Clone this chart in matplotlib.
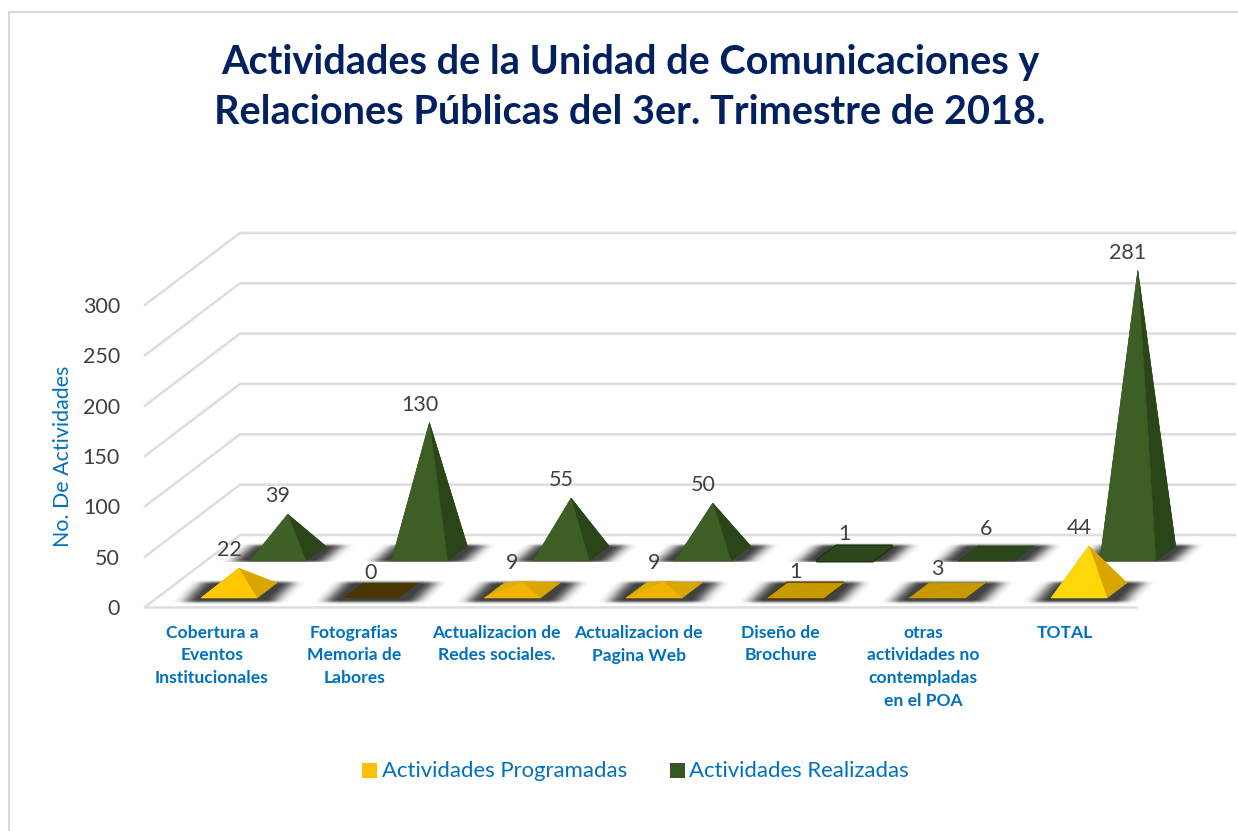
"""Piramides 3D de actividades por trimestre, dibujadas con una proyeccion simple."""
import matplotlib

matplotlib.use("agg")
import matplotlib.pyplot as plt
import numpy as np
from matplotlib.patches import Polygon, Rectangle
from matplotlib.path import Path

plt.rcParams["font.family"] = ["Lato", "DejaVu Sans"]

TITLE = "Actividades de la Unidad de Comunicaciones y\nRelaciones Públicas del 3er. Trimestre de 2018."
YLABEL = "No. De Actividades"
categories = [
    "Cobertura a\nEventos\nInstitucionales",
    "Fotografias\nMemoria de\nLabores",
    "Actualizacion de\nRedes sociales.",
    "Actualizacion de\nPagina Web",
    "Diseño de\nBrochure",
    "otras\nactividades no\ncontempladas\nen el POA",
    "TOTAL",
]
programadas = [22, 0, 9, 9, 1, 3, 44]
realizadas = [39, 130, 55, 50, 1, 6, 281]
series_names = ["Actividades Programadas", "Actividades Realizadas"]
yticks = [0, 50, 100, 150, 200, 250, 300]

BLUE = "#0070C0"
NAVY = "#002060"
GREY = "#404040"
GRID = "#DDDDDD"

W, H = 1238, 831

# proyeccion: categoria, profundidad (0 frente, 1 fondo del piso), valor -> pixeles
X0, Y0 = 145.0, 607.0
CAT_STEP = 141.67
DEPTH_DX, DEPTH_DY = 95.0, -72.0
PX_PER_UNIT = 1.007
WALL_RIGHT = 1235.0

# base de la piramide dentro de su celda
BASE_C0, BASE_C1 = 0.312, 0.707
BASE_D0, BASE_D1 = 0.125, 0.333


def project(cat, depth, value=0.0):
    x = X0 + CAT_STEP * cat + DEPTH_DX * depth
    y = Y0 + DEPTH_DY * depth - PX_PER_UNIT * value
    return x, y


# colores de cada serie
YELLOW = {"front": "#FFC800", "tall": "#FFD60A", "mid": "#F2B200", "right": "#D9A600", "back": "#E0AE00",
          "flat": "#4A3600", "low": "#C99A00"}
GREEN = {"front": "#3F6027", "tall": "#3D5F26", "mid": "#3F6027", "right": "#2A4518", "back": "#365522",
         "flat": "#1E3012", "low": "#2C481B"}


def box_blur(img, size, axis):
    kernel = np.ones(size) / size
    return np.apply_along_axis(lambda m: np.convolve(m, kernel, mode="same"), axis, img)


def draw_shadows(ax, depth, n_cat, bottom_pad, clip_bottom):
    # sombra difusa de toda una fila, calculada como mascara desenfocada
    y_top = int(project(0, depth + BASE_D1)[1]) - 14
    y_bot = int(project(0, depth + BASE_D0)[1]) + 16
    yy, xx = np.mgrid[y_top:y_bot, 0:W]
    grid = np.column_stack([xx.ravel() + 0.5, yy.ravel() + 0.5])
    mask = np.zeros(xx.shape)
    for i in range(n_cat):
        fl = project(i + BASE_C0, depth + BASE_D0)
        fr = project(i + BASE_C1, depth + BASE_D0)
        br = project(i + BASE_C1, depth + BASE_D1)
        bl = project(i + BASE_C0, depth + BASE_D1)
        pts = [
            (fl[0] - 17, fl[1] + bottom_pad),
            (fr[0] + 17, fr[1] + bottom_pad),
            (br[0] + 17, br[1] - 1),
            (bl[0] - 17, bl[1] - 1),
        ]
        mask[Path(pts).contains_points(grid).reshape(xx.shape)] = 1.0
    for _ in range(2):
        mask = box_blur(mask, 15, 1)
        mask = box_blur(mask, 3, 0)
    if clip_bottom:
        limit = int(project(0, depth + BASE_D0)[1]) + 2
        mask[yy >= limit] = 0.0
    rgba = np.zeros(xx.shape + (4,))
    rgba[..., :3] = 0.22
    rgba[..., 3] = np.clip(mask, 0, 0.95)
    ax.imshow(rgba, extent=(0, W, y_bot, y_top), zorder=3, aspect="auto", interpolation="bilinear")


def draw_pyramid(ax, cat, depth, value, colors, zorder):
    c0, c1 = cat + BASE_C0, cat + BASE_C1
    d0, d1 = depth + BASE_D0, depth + BASE_D1
    fl, fr = project(c0, d0), project(c1, d0)
    br, bl = project(c1, d1), project(c0, d1)
    apex = project((c0 + c1) / 2, (d0 + d1) / 2, value)
    if value == 0:
        ax.add_patch(Polygon([fl, fr, br, bl], closed=True, fc=colors["flat"], ec="none", zorder=zorder))
        return apex
    low = value <= 6
    edge = colors["flat"] if value == 1 else "none"
    ax.add_patch(Polygon([fl, fr, br, bl], closed=True, fc=colors["flat"], ec=edge, lw=2.2, zorder=zorder))
    if low:
        front = right = back = colors["low"]
    else:
        front = colors["tall"] if value >= 40 else colors["mid"] if value < 15 else colors["front"]
        right, back = colors["right"], colors["back"]
    # borde fino del mismo color para que no se vean costuras entre caras
    for pts, face in [([bl, br, apex], back), ([fl, bl, apex], back), ([fr, br, apex], right), ([fl, fr, apex], front)]:
        ax.add_patch(Polygon(pts, closed=True, fc=face, ec=face, lw=0.4, zorder=zorder))
    return apex


def main():
    fig = plt.figure(figsize=(W / 100, H / 100), dpi=100, facecolor="white")
    ax = fig.add_axes([0, 0, 1, 1])

    # marco
    ax.plot([9, 9, W], [H, 12, 12], color="#D9D9D9", lw=1.5, zorder=1)

    ax.text(630, 87.5, TITLE, ha="center", va="center", fontsize=28.5, fontweight="bold",
            color=NAVY, linespacing=1.46)

    # rejilla: pared del fondo y diagonales laterales
    n_cat = len(categories)
    for tick in yticks:
        x0, y0 = project(0, 0, tick)
        x1, y1 = project(0, 1, tick)
        ax.plot([x0, x1, WALL_RIGHT], [y0, y1, y1], color=GRID, lw=1.8, zorder=2, solid_joinstyle="miter")
        ax.text(120, y0 + 2, str(tick), ha="right", va="center", fontsize=15.5, color=GREY)
    x_end, y_end = project(n_cat, 0)
    ax.plot([X0, x_end - 0.5], [Y0, y_end], color=GRID, lw=1.8, zorder=2)

    ax.text(63, 456, YLABEL, rotation=90, ha="center", va="center", fontsize=15.4, color=BLUE)

    # fila de atras primero, luego fila del frente
    rows = [(realizadas, 0.514, GREEN, 5, 1, True), (programadas, 0.0, YELLOW, 7, 4, False)]
    for values, depth, colors, zorder, bottom_pad, clip_bottom in rows:
        draw_shadows(ax, depth, n_cat, bottom_pad, clip_bottom)
        for i, value in enumerate(values):
            apex_x, apex_y = draw_pyramid(ax, i, depth, value, colors, zorder)
            ax.text(apex_x - 10, apex_y - 18, str(value), ha="center", va="center", fontsize=15.5,
                    color=GREY, zorder=9)

    for i, label in enumerate(categories):
        ax.text(X0 + 67 + 142.2 * i, 625, label, ha="center", va="top", fontsize=12.6,
                fontweight="bold", color=BLUE, linespacing=1.5)

    # leyenda
    ax.add_patch(Rectangle((362, 763), 15, 15, fc="#FFC000", ec="none"))
    ax.text(382, 771, series_names[0], ha="left", va="center", fontsize=15.9, color=BLUE)
    ax.add_patch(Rectangle((670, 763), 15, 15, fc="#375623", ec="none"))
    ax.text(689, 771, series_names[1], ha="left", va="center", fontsize=15.9, color=BLUE)

    ax.set_xlim(0, W)
    ax.set_ylim(H, 0)
    ax.set_axis_off()

    fig.savefig("out.png", dpi=100, facecolor="white")
    plt.close(fig)


if __name__ == "__main__":
    main()
